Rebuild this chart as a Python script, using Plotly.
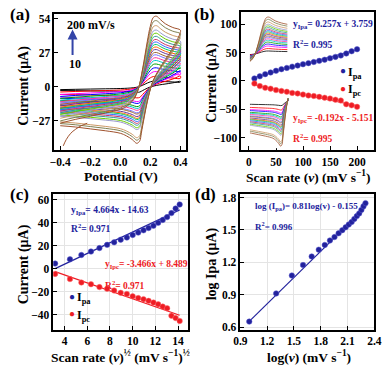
import numpy as np
import plotly.graph_objects as go

# ---- data ----
scan_rate = [10, 20, 30, 40, 50, 60, 70, 80, 90, 100,
             110, 120, 130, 140, 150, 160, 170, 180, 190, 200]
ipa = [4.5, 8.2, 12.0, 15.0, 18.0, 20.8, 23.0, 25.3, 27.2, 29.5,
       31.5, 33.5, 35.5, 37.5, 40.0, 42.5, 45.0, 48.5, 52.5, 56.0]
ipc = [-4.5, -9.0, -12.0, -13.5, -16.0, -17.5, -19.0, -21.0, -22.0, -24.0,
       -25.5, -26.5, -28.0, -29.5, -31.0, -33.0, -34.5, -41.0, -43.0, -45.5]

# CV at 200 mV/s (outermost loop), forward and reverse sweeps
e_fwd = [-0.40, -0.30, -0.20, -0.10, 0.00, 0.05, 0.09, 0.12, 0.15, 0.18,
         0.20, 0.22, 0.24, 0.27, 0.30, 0.35, 0.40]
i_fwd = [-29, -26, -23.5, -21, -18, -15, -10, -2, 15, 36,
         48, 55, 56, 53, 50, 47, 45]
e_rev = [0.40, 0.36, 0.32, 0.28, 0.24, 0.21, 0.18, 0.16, 0.14, 0.13,
         0.11, 0.08, 0.04, 0.00, -0.10, -0.20, -0.30, -0.40]
i_rev = [43, 33, 25, 18, 10, 2, -12, -24, -37, -43,
         -45, -42, -39, -37, -35, -33.5, -32, -31]
# start-up transient of the first sweep
e_start = [-0.38, -0.36, -0.33, -0.30, -0.26, -0.22]
i_start = [-47, -42, -37, -34, -31, -29]

cv_colors = ["#000000", "#ff0000", "#ff00ff", "#0000ff", "#00a000",
             "#00c8c8", "#ff3399", "#7070ff", "#996633", "#663399",
             "#ff6600", "#00cc66", "#3366ff", "#cc3366", "#339999",
             "#66cc00", "#9999cc", "#cc9966", "#808050", "#a0522d"]

fit_b = {"pa": (0.257, 3.759), "pc": (-0.192, -5.151)}
fit_c = {"pa": (4.664, -14.63), "pc": (-3.466, 8.489)}
fit_d = (0.81, -0.155)

BLUE = "#22229c"
RED = "#ee1c24"
FONT = "Liberation Serif"

W, H = 390, 367


def px(x):
    return x / W


def py(y):
    return 1 - y / H


fig = go.Figure()

# ---- (a) CV curves ----
for i in range(len(scan_rate)):
    ka = ipa[i] / ipa[-1]
    kc = ipc[i] / ipc[-1]
    x = e_fwd + e_rev
    y = [v * ka for v in i_fwd] + [v * kc for v in i_rev]
    fig.add_trace(go.Scatter(x=x, y=y, mode="lines", xaxis="x", yaxis="y",
                             line=dict(color=cv_colors[i], width=1, shape="spline"),
                             showlegend=False))
fig.add_trace(go.Scatter(x=e_start, y=i_start, mode="lines", xaxis="x", yaxis="y",
                         line=dict(color=cv_colors[-1], width=1, shape="spline"),
                         showlegend=False))

# ---- (b) insets ----
for i in range(len(scan_rate)):
    ka = ipa[i] / ipa[-1]
    kc = ipc[i] / ipc[-1]
    fig.add_trace(go.Scatter(x=e_fwd, y=[v * ka for v in i_fwd], mode="lines",
                             xaxis="x5", yaxis="y5",
                             line=dict(color=cv_colors[i], width=0.8, shape="spline"),
                             showlegend=False))
    fig.add_trace(go.Scatter(x=e_rev, y=[v * kc for v in i_rev], mode="lines",
                             xaxis="x6", yaxis="y6",
                             line=dict(color=cv_colors[i], width=0.8, shape="spline"),
                             showlegend=False))

marker_b = dict(size=5.5, color=BLUE, line=dict(color="#5a5ad0", width=0.5))
marker_r = dict(size=5.5, color=RED, line=dict(color="#ff7070", width=0.5))

# ---- (b) peak current vs scan rate ----
sr = np.array(scan_rate, dtype=float)
for key, vals, col, mk in [("pa", ipa, BLUE, marker_b), ("pc", ipc, RED, marker_r)]:
    m, b = fit_b[key]
    fig.add_trace(go.Scatter(x=[sr[0], sr[-1]], y=[m * sr[0] + b, m * sr[-1] + b],
                             mode="lines", xaxis="x2", yaxis="y2",
                             line=dict(color=col, width=1), showlegend=False))
    fig.add_trace(go.Scatter(x=sr, y=vals, mode="markers", xaxis="x2", yaxis="y2",
                             marker=mk, showlegend=False))

# ---- (c) peak current vs sqrt(scan rate) ----
sq = np.sqrt(sr)
for key, vals, col, mk in [("pa", ipa, BLUE, marker_b), ("pc", ipc, RED, marker_r)]:
    m, b = fit_c[key]
    fig.add_trace(go.Scatter(x=[sq[0], sq[-1]], y=[m * sq[0] + b, m * sq[-1] + b],
                             mode="lines", xaxis="x3", yaxis="y3",
                             line=dict(color=col, width=1.2), showlegend=False))
    fig.add_trace(go.Scatter(x=sq, y=vals, mode="markers", xaxis="x3", yaxis="y3",
                             marker=mk, showlegend=False))

# ---- (d) log Ipa vs log v ----
lv = np.log10(sr)
li = np.log10(np.array(ipa))
m, b = fit_d
fig.add_trace(go.Scatter(x=[lv[0], lv[-1]], y=[m * lv[0] + b, m * lv[-1] + b],
                         mode="lines", xaxis="x4", yaxis="y4",
                         line=dict(color=BLUE, width=1.2), showlegend=False))
fig.add_trace(go.Scatter(x=lv, y=li, mode="markers", xaxis="x4", yaxis="y4",
                         marker=marker_b, showlegend=False))

tickfont = dict(family=FONT, size=11.5, color="black", weight="bold")
axis_style = dict(showline=True, mirror=True, linecolor="black", linewidth=1.5,
                  ticks="inside", ticklen=4, tickwidth=1.2, tickcolor="black",
                  tickfont=tickfont, zeroline=False)
grid = dict(showgrid=True, gridcolor="#e4e4e4", gridwidth=1)
nogrid = dict(showgrid=False)
hidden = dict(visible=False, showgrid=False, zeroline=False)

fig.update_layout(
    width=W, height=H, margin=dict(l=0, r=0, t=0, b=0),
    paper_bgcolor="white", plot_bgcolor="white", showlegend=False,
    font=dict(family=FONT, color="black"),
    xaxis=dict(domain=[px(49), px(186)], range=[-0.44, 0.44], tickvals=[-0.4, -0.2, 0.0, 0.2, 0.4],
               tickformat=".1f", anchor="y", **axis_style, **nogrid),
    yaxis=dict(domain=[py(150), py(11)], range=[-50.4, 57.9], tickvals=[-27, 0, 27, 54],
               anchor="x", **axis_style, **nogrid),
    xaxis2=dict(domain=[px(243), px(381)], range=[-14.3, 232], tickvals=[0, 50, 100, 150, 200],
                anchor="y2", **axis_style, **nogrid),
    yaxis2=dict(domain=[py(150), py(9)], range=[-122, 122], tickvals=[-100, -50, 0, 50, 100],
                anchor="x2", **axis_style, **nogrid),
    xaxis3=dict(domain=[px(48), px(188)], range=[3.0, 14.9], tickvals=[4, 6, 8, 10, 12, 14],
                anchor="y3", **axis_style, **grid),
    yaxis3=dict(domain=[py(333), py(195)], range=[-53.1, 64.9], tickvals=[-40, -20, 0, 20, 40, 60],
                anchor="x3", **axis_style, **grid),
    xaxis4=dict(domain=[px(242), px(381)], range=[0.9, 2.4], tickvals=[0.9, 1.2, 1.5, 1.8, 2.1, 2.4],
                tickformat=".1f", anchor="y4", **axis_style, **grid),
    yaxis4=dict(domain=[py(333), py(195)], range=[0.579, 1.83], tickvals=[0.6, 0.9, 1.2, 1.5, 1.8],
                tickformat=".1f", anchor="x4", **axis_style, **grid),
    xaxis5=dict(domain=[px(252), px(292)], range=[0.08, 0.41], anchor="y5", **hidden),
    yaxis5=dict(domain=[py(60), py(13)], range=[-12, 58], anchor="x5", **hidden),
    xaxis6=dict(domain=[px(252), px(292)], range=[-0.32, 0.22], anchor="y6", **hidden),
    yaxis6=dict(domain=[py(148), py(97)], range=[-47, 3], anchor="x6", **hidden),
)

ann = []


def text(x, y, s, size=9.5, color="black", xanchor="left", angle=0):
    ann.append(dict(x=px(x), y=py(y), xref="paper", yref="paper", text=s,
                    showarrow=False, xanchor=xanchor, yanchor="middle", textangle=angle,
                    font=dict(family=FONT, size=size, color=color, weight="bold")))


# panel labels
for lab, x, y in [("(a)", 13, 12), ("(b)", 205, 12), ("(c)", 13, 195), ("(d)", 206, 195)]:
    text(x, y, lab, size=17, xanchor="center")

# axis titles
text(18, 84, "Current (μA)", size=14, xanchor="center", angle=-90)
text(118, 177, "Potential (V)", size=13.5, xanchor="center")
text(213, 81, "Current (μA)", size=14, xanchor="center", angle=-90)
text(313, 177, "Scan rate (<i>ν</i>) (mV s<sup>−1</sup>)", size=13.5, xanchor="center")
text(18, 266, "Current (μA)", size=14, xanchor="center", angle=-90)
text(118, 360, "Scan rate (<i>ν</i>)<sup>½</sup> (mV s<sup>−1</sup>)<sup>½</sup>", size=13.5, xanchor="center")
text(213, 266, "log Ipa (μA)", size=14, xanchor="center", angle=-90)
text(313, 360, "log(<i>ν</i>) (mV s<sup>−1</sup>)", size=13.5, xanchor="center")

# (a) scan direction arrow
text(60, 22, "200 mV/s", size=12, color="black")
text(62, 62, "10", size=12, color="black")
ann.append(dict(x=px(68), y=py(27), xref="paper", yref="paper", text="",
                showarrow=True, ax=0, ay=27, arrowhead=2, arrowsize=1,
                arrowwidth=2, arrowcolor="#3344a8"))

# (b) equations and key
text(295, 22, "y<sub>Ipa</sub>= 0.257x + 3.759", color=BLUE)
text(295, 42, "R<sup>2</sup>= 0.995", color=BLUE)
text(295, 118, "y<sub>Ipc</sub>= -0.192x - 5.151", color=RED)
text(295, 138, "R<sup>2</sup>= 0.995", color=RED)
text(343, 69, "●", size=10, color=BLUE)
text(352, 71, "I<sub>pa</sub>", size=12)
text(343, 87, "●", size=10, color=RED)
text(352, 89, "I<sub>pc</sub>", size=12)

# (c) equations and key
text(64, 212, "y<sub>Ipa</sub>= 4.664x - 14.63", color=BLUE)
text(64, 229, "R<sup>2</sup>= 0.971", color=BLUE)
text(100, 267, "y<sub>Ipc</sub>= -3.466x + 8.489", color=RED)
text(100, 287, "R<sup>2</sup>= 0.971", color=RED)
text(62, 299, "●", size=10, color=BLUE)
text(71, 301, "I<sub>pa</sub>", size=12)
text(62, 317, "●", size=10, color=RED)
text(71, 319, "I<sub>pc</sub>", size=12)

# (d) equation
text(255, 207, "log (I<sub>pa</sub>)= 0.81log(v) - 0.155", size=9, color=BLUE)
text(255, 227, "R<sup>2</sup>= 0.996", size=9, color=BLUE)

fig.update_layout(annotations=ann)

# page body margin would push the fixed-size figure off the window
fig.write_html("out.html", config={"displayModeBar": False},
               post_script="document.body.style.margin='0';document.body.style.overflow='hidden';")
